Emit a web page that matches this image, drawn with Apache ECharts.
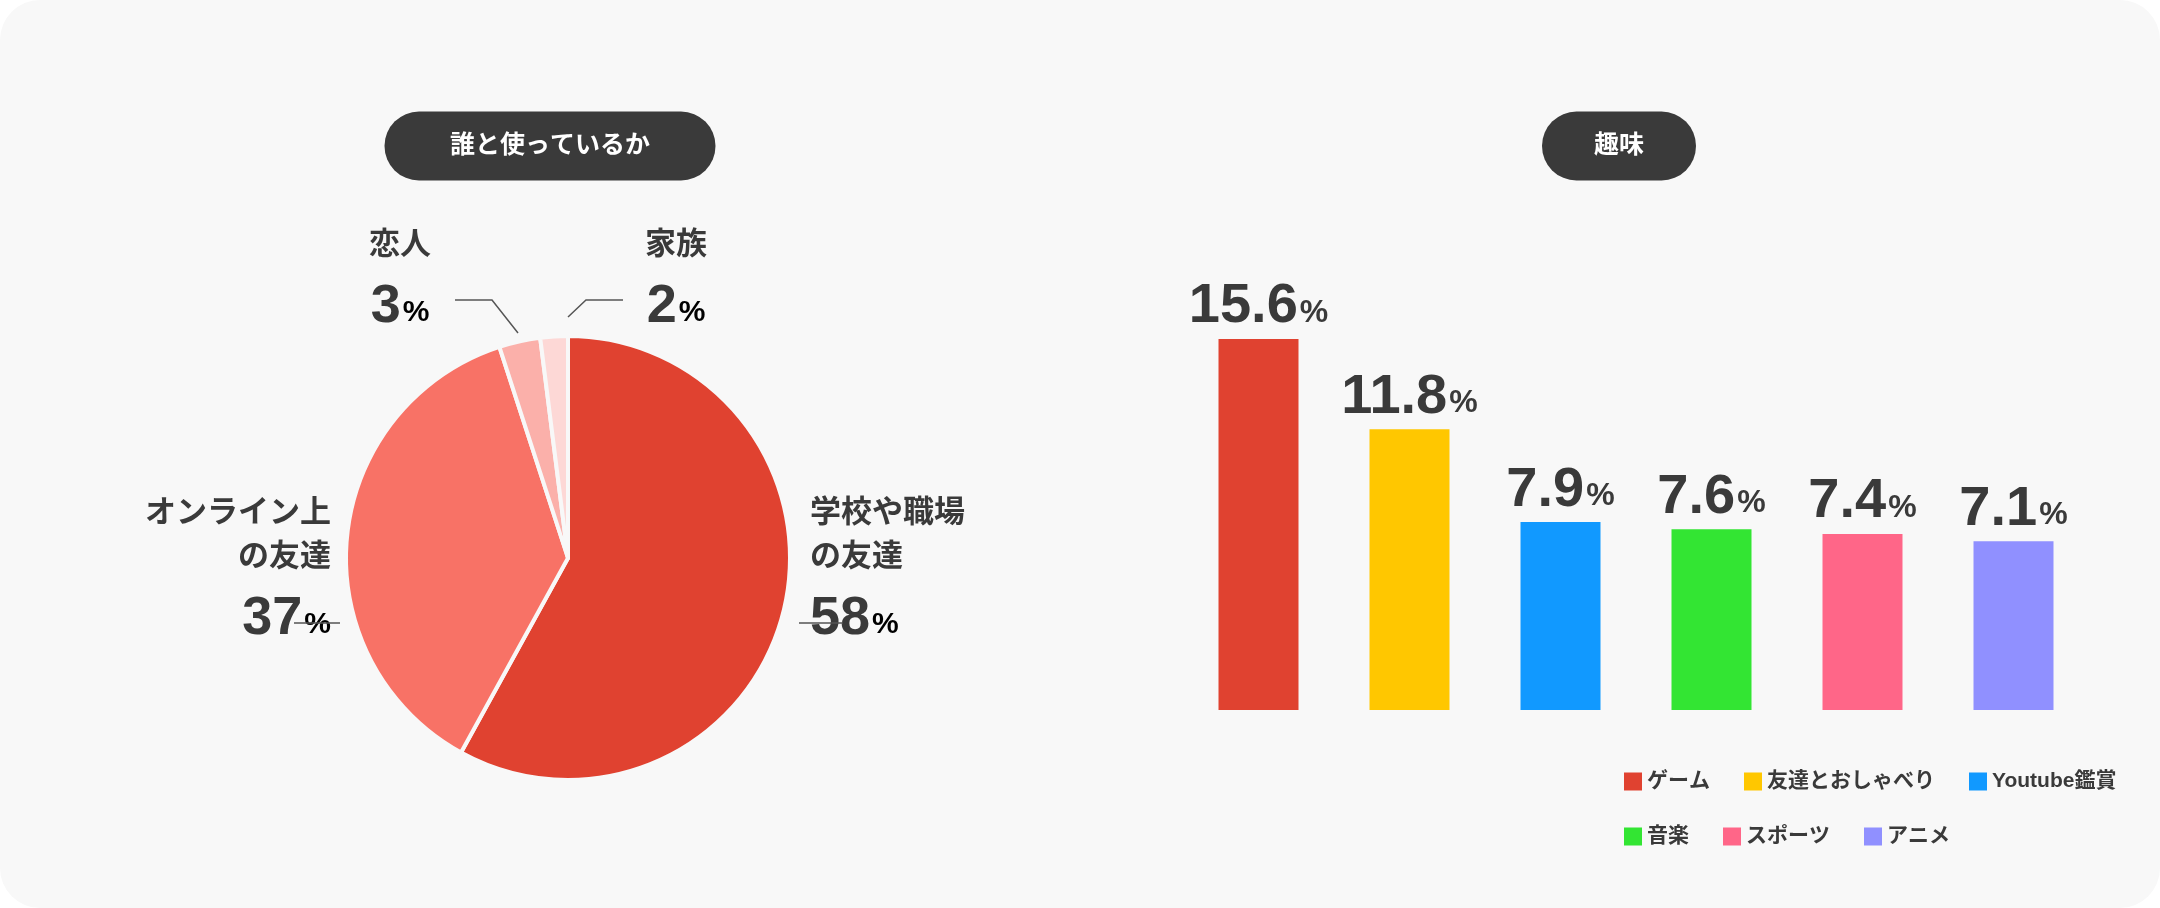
<!DOCTYPE html>
<html><head><meta charset="utf-8">
<script src="https://cdn.jsdelivr.net/npm/echarts@6/dist/echarts.min.js"></script>
<style>
html,body{margin:0;padding:0;background:#fff;}
#card{position:absolute;left:0;top:0;width:2160px;height:908px;background:#f8f8f8;border-radius:40px;}
#c{width:2160px;height:908px;}
</style></head><body>
<div id="card"><div id="c"></div></div>
<script>
const pieTitle = '誰と使っているか';
const pieNames = ['学校や職場\nの友達', 'オンライン上\nの友達', '恋人', '家族'];
const pieValues = [58, 37, 3, 2];
const pieColors = ['#e04230', '#f87266', '#fbb0aa', '#fdd8d6'];

const barTitle = '趣味';
const barCategories = ['ゲーム', '友達とおしゃべり', 'Youtube鑑賞', '音楽', 'スポーツ', 'アニメ'];
const barValues = [15.6, 11.8, 7.9, 7.6, 7.4, 7.1];
const barColors = ['#e04230', '#ffc700', '#1199ff', '#33e533', '#ff6688', '#9090ff'];

const FONT = "'Liberation Sans','Noto Sans CJK JP',sans-serif";
const TXT = '#3a3a3a';
const chart = echarts.init(document.getElementById('c'));

function pill(cx, cy, w, h, text) {
  return {
    type: 'group', children: [
      {type: 'rect', shape: {x: cx - w/2, y: cy - h/2, width: w, height: h, r: h/2}, style: {fill: '#3a3a3a'}},
      {type: 'text', x: cx, y: cy, style: {text: text, fill: '#fff', font: 'bold 25px ' + FONT, align: 'center', verticalAlign: 'middle'}}
    ]
  };
}
function pieLabel(x, y, name, val, align) {
  const lines = name.split('\n');
  const els = lines.map((l, i) => ({type: 'text', x: x, y: y + i * 44, style: {text: l, fill: TXT, font: 'bold 31px ' + FONT, align: align, verticalAlign: 'middle'}}));
  els.push({type: 'text', x: x, y: y + lines.length * 44 + 18, style: {
    text: '{n|' + val + '}{p|%}', align: align, verticalAlign: 'middle',
    rich: {n: {fontSize: 54, fontWeight: 'bold', fontFamily: FONT, fill: TXT, color: TXT}, p: {fontSize: 30, fontWeight: 'bold', fontFamily: FONT, color: TXT, padding: [12, 0, 0, 2]}}
  }});
  return {type: 'group', children: els};
}
const lineStyle = {stroke: '#555', lineWidth: 1.5, fill: null};

chart.setOption({
  animation: false,
  graphic: [
    pill(550, 146, 331, 69, pieTitle),
    pill(1619, 146, 154, 69, barTitle),
    pieLabel(810, 513, pieNames[0], pieValues[0], 'left'),
    pieLabel(331, 513, pieNames[1], pieValues[1], 'right'),
    pieLabel(400, 245, pieNames[2], pieValues[2], 'center'),
    pieLabel(676, 245, pieNames[3], pieValues[3], 'center'),
    {type: 'polyline', shape: {points: [[799, 623], [843, 623]]}, style: lineStyle},
    {type: 'polyline', shape: {points: [[294, 623], [340, 623]]}, style: lineStyle},
    {type: 'polyline', shape: {points: [[455, 300], [492, 300], [518, 333]]}, style: lineStyle},
    {type: 'polyline', shape: {points: [[568, 317], [586, 300], [623, 300]]}, style: lineStyle}
  ],
  legend: {
    left: 1619, top: 766, data: barCategories, itemWidth: 18, itemHeight: 18, itemGap: 34, icon: 'rect',
    textStyle: {fontSize: 21, fontFamily: FONT, color: TXT, fontWeight: 'bold'}
  },
  grid: {left: 1183, width: 906, top: 339, height: 371},
  xAxis: {type: 'category', data: barCategories, show: false},
  yAxis: {type: 'value', min: 0, max: 15.6, show: false},
  series: [
    {
      type: 'pie', center: [568, 558], radius: [0, 222], startAngle: 90, clockwise: true,
      label: {show: false}, labelLine: {show: false}, silent: true,
      itemStyle: {borderColor: '#f8f8f8', borderWidth: 4},
      data: pieValues.map((v, i) => ({value: v, name: pieNames[i], itemStyle: {color: pieColors[i]}}))
    },
    ...barCategories.map((c, i) => ({
      type: 'bar', name: c, stack: 'a', barWidth: 80, itemStyle: {color: barColors[i]},
      data: barCategories.map((_, j) => j === i ? barValues[i] : null),
      label: {show: true, position: 'top', distance: 4, formatter: p => '{n|' + p.value.toFixed(1) + '}{p|%}',
        rich: {n: {fontSize: 56, fontWeight: 'bold', fontFamily: FONT, color: TXT}, p: {fontSize: 32, fontWeight: 'bold', fontFamily: FONT, color: TXT, padding: [12, 0, 0, 2]}}}
    }))
  ]
});
</script></body></html>
